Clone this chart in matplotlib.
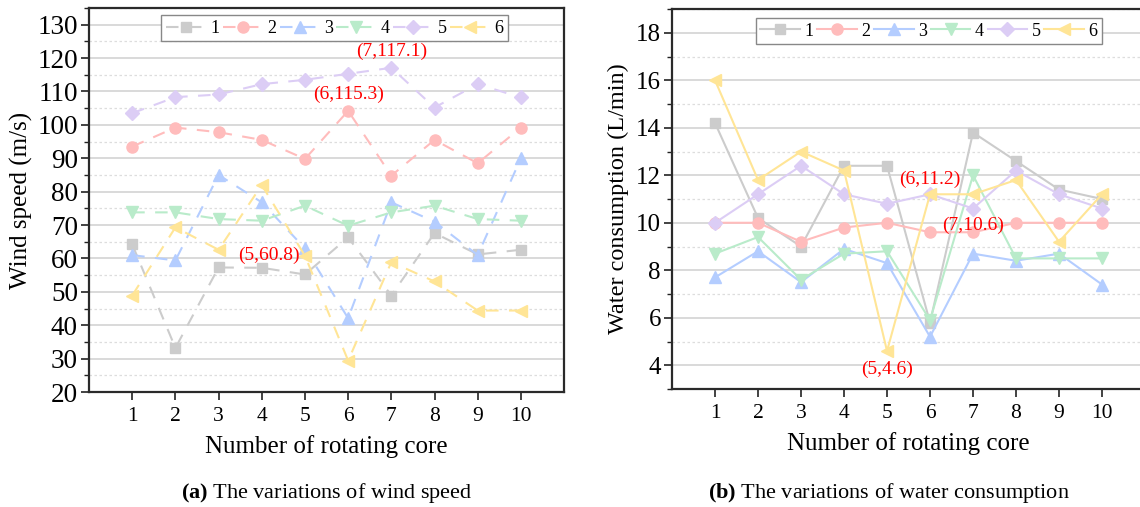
import matplotlib
matplotlib.use("Agg")
import matplotlib.pyplot as plt
from matplotlib.ticker import MultipleLocator
import numpy as np

plt.rcParams['font.family'] = ['Liberation Serif', 'DejaVu Serif']
plt.rcParams['mathtext.fontset'] = 'custom'
plt.rcParams['mathtext.rm'] = 'Liberation Serif'
plt.rcParams['mathtext.bf'] = 'Liberation Serif:bold'

cores = np.arange(1, 11)
names = ["1", "2", "3", "4", "5", "6"]
colors = ["#cccccc", "#ffbcbc", "#b4cdff", "#b9ebca", "#dccdf5", "#ffe596"]
markers = ["s", "o", "^", "v", "D", "<"]
msizes = [7, 8, 8, 8, 7, 8]

# wind speed (m/s)
wind_1 = [64.2, 33.2, 57.3, 57.2, 55.2, 66.3, 48.9, 67.6, 61.2, 62.6]
wind_2 = [93.5, 99.2, 97.8, 95.5, 89.8, 104.2, 84.8, 95.5, 88.5, 99.2]
wind_3 = [61.0, 59.4, 85.0, 76.8, 63.0, 42.1, 76.8, 71.0, 61.0, 90.0]
wind_4 = [73.8, 73.8, 71.8, 71.3, 75.8, 69.8, 73.8, 75.8, 71.8, 71.3]
wind_5 = [103.5, 108.3, 109.1, 112.2, 113.5, 115.3, 117.1, 105.2, 112.2, 108.2]
wind_6 = [48.9, 69.3, 62.6, 82.0, 60.8, 29.4, 58.9, 53.1, 44.4, 44.4]

# water consumption (L/min)
water_1 = [14.2, 10.2, 9.0, 12.4, 12.4, 5.8, 13.8, 12.6, 11.4, 11.0]
water_2 = [10.0, 10.0, 9.2, 9.8, 10.0, 9.6, 9.6, 10.0, 10.0, 10.0]
water_3 = [7.7, 8.8, 7.5, 8.9, 8.3, 5.2, 8.7, 8.4, 8.7, 7.4]
water_4 = [8.7, 9.4, 7.6, 8.7, 8.8, 5.9, 12.0, 8.5, 8.5, 8.5]
water_5 = [10.0, 11.2, 12.4, 11.2, 10.8, 11.2, 10.6, 12.2, 11.2, 10.6]
water_6 = [16.0, 11.8, 13.0, 12.2, 4.6, 11.2, 11.2, 11.8, 9.2, 11.2]

wind = [wind_1, wind_2, wind_3, wind_4, wind_5, wind_6]
water = [water_1, water_2, water_3, water_4, water_5, water_6]

# (series index, core number, offset in points)
wind_notes = [(4, 7, (0, 12)), (4, 6, (0, -15)), (5, 5, (-26, 0))]
water_notes = [(5, 6, (0, 11)), (4, 7, (0, -12)), (5, 5, (0, -13))]

fig = plt.figure(figsize=(11.4, 5.07), dpi=100)
ax1 = fig.add_axes([0.0781, 0.2268, 0.4167, 0.7574])
ax2 = fig.add_axes([0.5895, 0.2327, 0.4149, 0.7495])


def style_axes(ax, ylim, major, minor, ysize):
    ax.set_xlim(0, 11)
    ax.set_ylim(*ylim)
    ax.set_xticks(cores)
    ax.yaxis.set_major_locator(MultipleLocator(major))
    ax.yaxis.set_minor_locator(MultipleLocator(minor))
    ax.grid(True, which='major', axis='y', color='#d3d3d3', lw=1.2, zorder=0)
    ax.grid(True, which='minor', axis='y', color='#dddddd', lw=0.9, ls=(0, (2, 2)), zorder=0)
    ax.set_axisbelow(True)
    ax.tick_params(axis='both', which='major', direction='out', length=6, width=1.2,
                   color='#222222')
    ax.tick_params(axis='x', labelsize=15.5, pad=5)
    ax.tick_params(axis='y', labelsize=ysize, pad=2)
    ax.tick_params(axis='y', which='minor', direction='out', length=3.5, width=1.0, color='#222222')
    ax.tick_params(axis='x', which='minor', bottom=False)
    for s in ax.spines.values():
        s.set_linewidth(1.6)
        s.set_color('#2a2a2a')
    ax.set_xlabel("Number of rotating core", fontsize=18, labelpad=6)


# wind speed panel, dashed lines
for i, vals in enumerate(wind):
    ax1.plot(cores, vals, ls=(0, (6, 5)), lw=1.5, color=colors[i], marker=markers[i],
             ms=msizes[i], mec=colors[i], mfc=colors[i], label=names[i], zorder=3)
style_axes(ax1, (20, 135), 10, 5, 19.5)
ax1.set_ylabel("Wind speed (m/s)", fontsize=18, labelpad=3)
for si, c, off in wind_notes:
    v = wind[si][c - 1]
    ax1.annotate(f"({c},{v:g})", (c, v), xytext=off, textcoords='offset points',
                 ha='center', va='center', color='red', fontsize=14, zorder=5)

# water consumption panel, solid lines
for i, vals in enumerate(water):
    ax2.plot(cores, vals, ls='-', lw=1.5, color=colors[i], marker=markers[i],
             ms=msizes[i], mec=colors[i], mfc=colors[i], label=names[i], zorder=3)
style_axes(ax2, (3, 19), 2, 1, 18)
ax2.spines['right'].set_visible(False)
ax2.set_ylabel("Water consumption (L/min)", fontsize=17.5, labelpad=5)
for si, c, off in water_notes:
    v = water[si][c - 1]
    ax2.annotate(f"({c},{v:g})", (c, v), xytext=off, textcoords='offset points',
                 ha='center', va='center', color='red', fontsize=14, zorder=5)

for ax, anchor in ((ax1, (0.517, 0.995)), (ax2, (0.543, 0.99))):
    leg = ax.legend(loc='upper center', bbox_to_anchor=anchor, ncol=6, fontsize=13,
                    frameon=True, fancybox=False, edgecolor='#888888', framealpha=1,
                    handlelength=2.2, handletextpad=0.25, columnspacing=0.2,
                    borderpad=0.25, borderaxespad=0.3)
    leg.get_frame().set_linewidth(1.0)

fig.text(0.287, 0.028, r"$\mathbf{(a)}$ The variations of wind speed",
         ha='center', va='center', fontsize=16)
fig.text(0.78, 0.028, r"$\mathbf{(b)}$ The variations of water consumption",
         ha='center', va='center', fontsize=16)

fig.savefig("out.png", dpi=100)
